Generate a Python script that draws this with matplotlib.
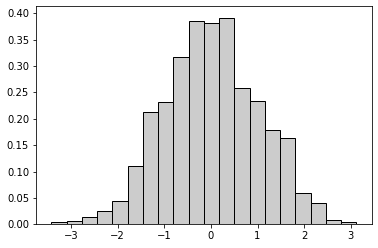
import numpy as np
from matplotlib import pyplot as plt

# Data --------------------------------------------

binEdges = np.linspace(-3.42, 3.12, 21)
densities = [0.004, 0.006, 0.013, 0.025, 0.045, 0.110, 0.212, 0.231, 0.318, 0.386,
             0.382, 0.391, 0.258, 0.233, 0.178, 0.163, 0.059, 0.040, 0.009, 0.004]
yTicks = [0.00, 0.05, 0.10, 0.15, 0.20, 0.25, 0.30, 0.35, 0.40]

# Plot --------------------------------------------

fig = plt.figure(figsize=(378/72, 248/72), dpi=72)
ax = fig.add_axes([36/378, 1-224.3/248, (371.7-36)/378, (224.3-5.7)/248])
ax.hist(binEdges[:-1], bins=binEdges, weights=densities,
        color='0.8', edgecolor='black', linewidth=1.0)
ax.set_yticks(yTicks)
ax.set_yticklabels(['%.2f' % t for t in yTicks])
ax.set_xlim(-3.747, 3.447)
ax.set_ylim(0, 0.4144)
ax.tick_params(labelsize=10)
fig.savefig('out.png', dpi=72)
